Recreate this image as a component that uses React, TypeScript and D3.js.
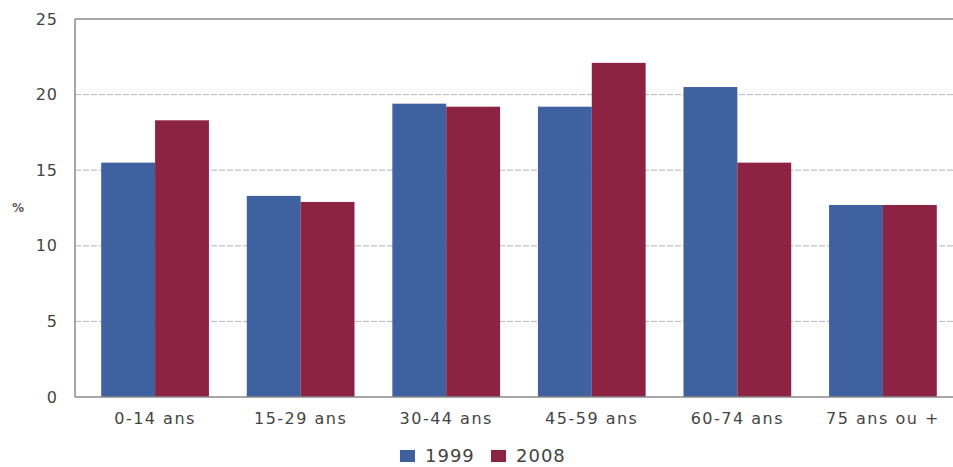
import { useEffect, useRef } from 'react';
import * as d3 from 'd3';

const categories = ['0-14 ans', '15-29 ans', '30-44 ans', '45-59 ans', '60-74 ans', '75 ans ou +'];
const series = ['1999', '2008'];
const values1999 = [15.5, 13.3, 19.4, 19.2, 20.5, 12.7];
const values2008 = [18.3, 12.9, 19.2, 22.1, 15.5, 12.7];
const yTicks = [0, 5, 10, 15, 20, 25];

const colors = ['#40619f', '#8c2343'];
const font = 'DejaVu Sans, Verdana, sans-serif';

const App = () => {
    const svgRef = useRef<SVGSVGElement>(null);

    useEffect(() => {
        if (!svgRef.current) return;
        const svg = d3.select(svgRef.current);
        svg.selectAll('*').remove();

        const width = 953;
        const height = 467;
        const left = 75;
        const right = 963;
        const top = 19;
        const bottom = 397;

        const x0 = d3.scaleBand().domain(categories).range([left, right]).paddingInner(0.26).paddingOuter(0.18);
        const x1 = d3.scaleBand().domain(series).range([0, x0.bandwidth()]);
        const y = d3.scaleLinear().domain([0, 25]).range([bottom, top]);

        svg.attr('width', width).attr('height', height);
        svg.append('rect').attr('width', width).attr('height', height).attr('fill', '#fff');

        // lignes de grille
        svg.append('g')
            .selectAll('line')
            .data(yTicks.filter(t => t > 0 && t < 25))
            .enter()
            .append('line')
            .attr('x1', left)
            .attr('x2', width)
            .attr('y1', d => y(d))
            .attr('y2', d => y(d))
            .attr('stroke', '#b4b4c4')
            .attr('stroke-width', 1)
            .attr('stroke-dasharray', '6,2');

        // bordure haute
        svg.append('line')
            .attr('x1', left).attr('x2', width)
            .attr('y1', y(25)).attr('y2', y(25))
            .attr('stroke', '#8a8a8a').attr('stroke-width', 1.5);

        const rows = categories.map((c, i) => ({ c, vals: [values1999[i], values2008[i]] }));

        const groups = svg.append('g')
            .selectAll('g')
            .data(rows)
            .enter()
            .append('g')
            .attr('transform', d => `translate(${x0(d.c)},0)`);

        groups.selectAll('rect')
            .data(d => d.vals.map((v, j) => ({ s: series[j], v, j })))
            .enter()
            .append('rect')
            .attr('x', d => x1(d.s) || 0)
            .attr('y', d => y(d.v))
            .attr('width', x1.bandwidth())
            .attr('height', d => y(0) - y(d.v))
            .attr('fill', d => colors[d.j]);

        // axes
        svg.append('line')
            .attr('x1', left).attr('x2', left)
            .attr('y1', y(25)).attr('y2', y(0))
            .attr('stroke', '#8a8a8a').attr('stroke-width', 1.5);
        svg.append('line')
            .attr('x1', left).attr('x2', width)
            .attr('y1', y(0)).attr('y2', y(0))
            .attr('stroke', '#8a8a8a').attr('stroke-width', 1.5);

        // étiquettes Y
        svg.append('g')
            .selectAll('text')
            .data(yTicks)
            .enter()
            .append('text')
            .attr('x', 58)
            .attr('y', d => y(d))
            .attr('dy', '0.35em')
            .attr('text-anchor', 'end')
            .attr('font-family', font)
            .attr('font-size', 16)
            .attr('letter-spacing', 1)
            .attr('fill', '#444')
            .text(d => d);

        svg.append('text')
            .attr('x', 18)
            .attr('y', 208)
            .attr('dy', '0.35em')
            .attr('text-anchor', 'middle')
            .attr('font-family', font)
            .attr('font-size', 12)
            .attr('font-weight', 'bold')
            .attr('fill', '#555')
            .text('%');

        // étiquettes X
        svg.append('g')
            .selectAll('text')
            .data(categories)
            .enter()
            .append('text')
            .attr('x', d => (x0(d) || 0) + x0.bandwidth() / 2)
            .attr('y', 418)
            .attr('dy', '0.35em')
            .attr('text-anchor', 'middle')
            .attr('font-family', font)
            .attr('font-size', 16)
            .attr('letter-spacing', 1.5)
            .attr('fill', '#444')
            .text(d => d);

        // légende
        const legend = svg.append('g').attr('transform', 'translate(400,456)');
        const items = [
            { label: series[0], color: colors[0], x: 0 },
            { label: series[1], color: colors[1], x: 91 },
        ];
        items.forEach(it => {
            legend.append('rect')
                .attr('x', it.x).attr('y', -6)
                .attr('width', 15).attr('height', 12)
                .attr('fill', it.color);
            legend.append('text')
                .attr('x', it.x + 25).attr('y', 0)
                .attr('dy', '0.36em')
                .attr('font-family', font)
                .attr('font-size', 18)
                .attr('letter-spacing', 1)
                .attr('fill', '#444')
                .text(it.label);
        });
    }, []);

    return (
        <div style={{ position: 'absolute', left: 0, top: 0, overflow: 'hidden', width: 953, height: 467 }}>
            <svg ref={svgRef} style={{ display: 'block' }}></svg>
        </div>
    );
};

export default App;
